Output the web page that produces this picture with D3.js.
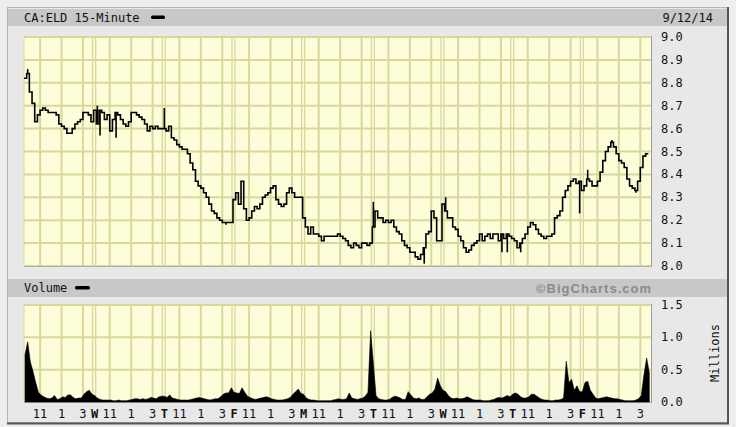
<!DOCTYPE html>
<html>
<head>
<meta charset="utf-8">
<script src="https://cdn.jsdelivr.net/npm/d3@7/dist/d3.min.js"></script>
<style>
  html, body { margin: 0; padding: 0; background: #eeeeee; }
  svg { display: block; }
  text { font-family: "DejaVu Sans Mono", monospace; }
</style>
</head>
<body>
<svg id="chart" width="736" height="427"></svg>
<script>
// ---------- DATA ----------
const title = "CA:ELD 15-Minute";
const dateLabel = "9/12/14";
const dayLetters = ["", "W", "T", "F", "M", "T", "W", "T", "F"];
const hourLabels = ["11", "1", "3"];
const hourBarOffsets = [6, 14, 22];      // 15-min bar offsets of 11:00, 1:00, 3:00 from 9:30
const barsPerDay = 26;
const priceTicks = [8.0, 8.1, 8.2, 8.3, 8.4, 8.5, 8.6, 8.7, 8.8, 8.9, 9.0];
const volumeTicks = [0.0, 0.5, 1.0, 1.5];

// 15-minute closing prices, one array per trading day
const priceTue = [8.82, 8.84, 8.76, 8.71, 8.63, 8.66, 8.68, 8.69, 8.68, 8.67, 8.67, 8.67, 8.66, 8.62, 8.61, 8.60, 8.58, 8.58, 8.60, 8.62, 8.63, 8.64, 8.67, 8.67, 8.66, 8.63];
const priceWed = [8.68, 8.62, 8.68, 8.67, 8.64, 8.66, 8.59, 8.64, 8.67, 8.66, 8.64, 8.62, 8.61, 8.63, 8.67, 8.67, 8.66, 8.65, 8.64, 8.62, 8.59, 8.61, 8.60, 8.61, 8.60, 8.60];
const priceThu = [8.60, 8.59, 8.61, 8.56, 8.55, 8.53, 8.52, 8.51, 8.51, 8.49, 8.45, 8.42, 8.37, 8.35, 8.34, 8.32, 8.30, 8.27, 8.24, 8.23, 8.21, 8.20, 8.19, 8.19, 8.19, 8.19];
const priceFri = [8.29, 8.32, 8.27, 8.37, 8.25, 8.20, 8.21, 8.24, 8.26, 8.25, 8.27, 8.30, 8.31, 8.32, 8.34, 8.35, 8.29, 8.27, 8.26, 8.27, 8.32, 8.34, 8.32, 8.30, 8.30, 8.30];
const priceMon = [8.21, 8.17, 8.14, 8.17, 8.14, 8.14, 8.13, 8.11, 8.13, 8.13, 8.13, 8.13, 8.13, 8.14, 8.13, 8.12, 8.11, 8.09, 8.08, 8.10, 8.09, 8.08, 8.10, 8.10, 8.09, 8.10];
const priceTue2 = [8.17, 8.24, 8.21, 8.21, 8.19, 8.20, 8.19, 8.20, 8.17, 8.15, 8.14, 8.11, 8.09, 8.08, 8.06, 8.06, 8.04, 8.03, 8.05, 8.08, 8.14, 8.15, 8.24, 8.21, 8.11, 8.11];
const priceWed2 = [8.27, 8.24, 8.21, 8.21, 8.17, 8.16, 8.13, 8.11, 8.08, 8.06, 8.07, 8.09, 8.10, 8.11, 8.14, 8.11, 8.13, 8.14, 8.12, 8.14, 8.14, 8.11, 8.14, 8.12, 8.14, 8.13];
const priceThu2 = [8.12, 8.11, 8.08, 8.10, 8.12, 8.14, 8.17, 8.19, 8.18, 8.16, 8.14, 8.13, 8.12, 8.13, 8.13, 8.14, 8.21, 8.22, 8.24, 8.30, 8.33, 8.35, 8.37, 8.38, 8.36, 8.37];
const priceFri2 = [8.33, 8.35, 8.38, 8.37, 8.35, 8.35, 8.37, 8.41, 8.46, 8.50, 8.52, 8.54, 8.52, 8.49, 8.46, 8.45, 8.43, 8.38, 8.35, 8.34, 8.33, 8.37, 8.43, 8.48, 8.49, 8.49];

// intrabar extremes that stick out of the closing line: [bar index, price]
const priceSpikes = [[1, 8.86], [27, 8.70], [28, 8.57], [34, 8.56], [52, 8.69], [75, 8.18], [130, 8.28], [149, 8.01], [157, 8.30], [178, 8.06], [180, 8.06], [185, 8.06], [207, 8.23], [210, 8.42], [219, 8.55], [228, 8.32]];

// 15-minute volume, millions of shares
const volTue = [0.73, 0.93, 0.62, 0.47, 0.30, 0.15, 0.11, 0.08, 0.06, 0.05, 0.06, 0.10, 0.04, 0.05, 0.08, 0.07, 0.11, 0.11, 0.07, 0.05, 0.06, 0.06, 0.12, 0.16, 0.18, 0.12];
const volWed = [0.10, 0.06, 0.04, 0.03, 0.03, 0.03, 0.03, 0.02, 0.02, 0.03, 0.02, 0.02, 0.02, 0.03, 0.04, 0.05, 0.05, 0.04, 0.05, 0.04, 0.05, 0.07, 0.06, 0.05, 0.08, 0.09];
const volThu = [0.09, 0.07, 0.11, 0.06, 0.05, 0.04, 0.03, 0.03, 0.03, 0.03, 0.04, 0.05, 0.06, 0.07, 0.06, 0.05, 0.04, 0.03, 0.04, 0.05, 0.05, 0.08, 0.12, 0.14, 0.14, 0.22];
const volFri = [0.15, 0.14, 0.13, 0.22, 0.15, 0.09, 0.07, 0.05, 0.04, 0.05, 0.06, 0.07, 0.08, 0.07, 0.05, 0.04, 0.03, 0.03, 0.03, 0.04, 0.05, 0.07, 0.12, 0.16, 0.20, 0.13];
const volMon = [0.12, 0.06, 0.04, 0.03, 0.03, 0.02, 0.02, 0.02, 0.02, 0.02, 0.02, 0.03, 0.04, 0.05, 0.04, 0.04, 0.05, 0.14, 0.06, 0.05, 0.04, 0.05, 0.06, 0.09, 0.15, 1.10];
const volTue2 = [0.60, 0.10, 0.05, 0.04, 0.03, 0.03, 0.04, 0.07, 0.09, 0.08, 0.06, 0.04, 0.04, 0.16, 0.11, 0.06, 0.05, 0.06, 0.04, 0.04, 0.08, 0.12, 0.14, 0.20, 0.37, 0.25];
const volWed2 = [0.18, 0.16, 0.10, 0.06, 0.05, 0.06, 0.05, 0.05, 0.06, 0.08, 0.06, 0.04, 0.03, 0.03, 0.03, 0.02, 0.02, 0.02, 0.03, 0.04, 0.06, 0.07, 0.06, 0.08, 0.10, 0.08];
const volThu2 = [0.12, 0.14, 0.12, 0.08, 0.06, 0.06, 0.08, 0.12, 0.12, 0.09, 0.06, 0.04, 0.03, 0.03, 0.02, 0.02, 0.03, 0.03, 0.04, 0.06, 0.63, 0.30, 0.35, 0.18, 0.25, 0.16];
const volFri2 = [0.16, 0.30, 0.32, 0.18, 0.12, 0.06, 0.05, 0.06, 0.07, 0.08, 0.07, 0.06, 0.05, 0.05, 0.04, 0.03, 0.02, 0.02, 0.02, 0.02, 0.03, 0.05, 0.10, 0.42, 0.68, 0.45];

// ---------- BUILD ----------
const prices = [].concat(priceTue, priceWed, priceThu, priceFri, priceMon, priceTue2, priceWed2, priceThu2, priceFri2);
const volumes = [].concat(volTue, volWed, volThu, volFri, volMon, volTue2, volWed2, volThu2, volFri2);
const nDays = dayLetters.length;
const nBars = nDays * barsPerDay;

const svg = d3.select("#chart");
const L = 24, R = 651;
const pTop = 37, pBot = 266;
const vTop = 305, vBot = 402;

const x = d3.scaleLinear().domain([0, nBars]).range([L, R]);
const y = d3.scaleLinear().domain([8.0, 9.0]).range([pBot, pTop]);
const yv = d3.scaleLinear().domain([0, 1.5]).range([vBot, vTop]);

const gridColor = "#d8d89c";
const plotFill = "#fdfdd9";

// frame
svg.append("rect").attr("x", 7.5).attr("y", 7.5).attr("width", 720).attr("height", 415)
  .attr("fill", "#e8e8e8").attr("stroke", "#b4b4b4");
svg.append("line").attr("x1", 728).attr("x2", 728).attr("y1", 7).attr("y2", 424).attr("stroke", "#555").attr("stroke-width", 2);
svg.append("line").attr("x1", 7).attr("x2", 729).attr("y1", 423.5).attr("y2", 423.5).attr("stroke", "#555").attr("stroke-width", 2);

// title bars
svg.append("rect").attr("x", 8).attr("y", 9).attr("width", 719).attr("height", 17).attr("fill", "#c8c8c8");
svg.append("rect").attr("x", 8).attr("y", 279).attr("width", 719).attr("height", 18).attr("fill", "#c8c8c8");

svg.append("text").attr("x", 24).attr("y", 22).attr("font-size", 12).attr("fill", "#111").text(title);
svg.append("rect").attr("x", 151).attr("y", 15.5).attr("width", 14).attr("height", 3.5).attr("rx", 1.5).attr("fill", "#000");
svg.append("text").attr("x", 713).attr("y", 22).attr("text-anchor", "end").attr("font-size", 12).attr("fill", "#111").text(dateLabel);

svg.append("text").attr("x", 24).attr("y", 292).attr("font-size", 12).attr("fill", "#111").text("Volume");
svg.append("rect").attr("x", 75).attr("y", 286).attr("width", 15).attr("height", 3.5).attr("rx", 1.5).attr("fill", "#000");
svg.append("text").attr("x", 651).attr("y", 292.5).attr("text-anchor", "end")
  .attr("font-weight", "bold")
  .attr("font-size", 13).attr("fill", "#8a8a8a").attr("textLength", 115).attr("lengthAdjust", "spacing")
  .style("font-family", "'Liberation Sans', Arial, sans-serif")
  .text("©BigCharts.com");

// plot panels
function panel(top, bot, ticks, yScale) {
  const g = svg.append("g");
  g.append("rect").attr("x", L).attr("y", top).attr("width", R - L).attr("height", bot - top).attr("fill", plotFill);
  // horizontal grid
  g.selectAll("line.h").data(ticks).enter().append("line")
    .attr("x1", L).attr("x2", R).attr("y1", d => yScale(d)).attr("y2", d => yScale(d))
    .attr("stroke", gridColor).attr("stroke-width", 2);
  // vertical grid
  const vx = [];
  for (let d = 0; d < nDays; d++) {
    if (d > 0) { vx.push({ p: x(d * barsPerDay) - 1, w: 1.3 }); vx.push({ p: x(d * barsPerDay) + 2, w: 1.3 }); }
    hourBarOffsets.forEach(o => vx.push({ p: x(d * barsPerDay + o), w: 2 }));
  }
  g.selectAll("line.v").data(vx).enter().append("line")
    .attr("x1", d => d.p).attr("x2", d => d.p).attr("y1", top).attr("y2", bot)
    .attr("stroke", gridColor).attr("stroke-width", d => d.w);
  g.append("line").attr("x1", L).attr("x2", L).attr("y1", top).attr("y2", bot).attr("stroke", gridColor).attr("stroke-width", 1);
  g.append("line").attr("x1", R + 0.5).attr("x2", R + 0.5).attr("y1", top - 1).attr("y2", bot + 1).attr("stroke", "#9a9a9a").attr("stroke-width", 1);
  g.append("line").attr("x1", L).attr("x2", R + 1).attr("y1", bot + 0.5).attr("y2", bot + 0.5).attr("stroke", "#b0b0b0").attr("stroke-width", 1);
  return g;
}
panel(pTop, pBot, priceTicks, y);
panel(vTop, vBot, volumeTicks, yv);

// price line (stepped)
const line = d3.line().x((d, i) => x(i)).y(d => y(d)).curve(d3.curveStepAfter);
svg.append("path").datum(prices).attr("d", line).attr("fill", "none")
  .attr("stroke", "#000").attr("stroke-width", 1.6);
svg.selectAll("line.spike").data(priceSpikes).enter().append("line")
  .attr("x1", d => x(d[0]) + 1).attr("x2", d => x(d[0]) + 1)
  .attr("y1", d => y(prices[d[0]])).attr("y2", d => y(d[1]))
  .attr("stroke", "#000").attr("stroke-width", 1.6);

// volume area
const area = d3.area().x((d, i) => x(i) + 1).y0(yv(0)).y1(d => yv(d)).curve(d3.curveLinear);
svg.append("path").datum(volumes).attr("d", area).attr("fill", "#000").attr("stroke", "#000").attr("stroke-width", 0.6);

// right axes labels
svg.selectAll("text.pt").data(priceTicks).enter().append("text")
  .attr("x", 661).attr("y", d => y(d) + 4).attr("font-size", 12).attr("fill", "#111")
  .text(d => d.toFixed(1));
svg.selectAll("text.vt").data(volumeTicks).enter().append("text")
  .attr("x", 661).attr("y", d => yv(d) + 4).attr("font-size", 12).attr("fill", "#111")
  .text(d => d.toFixed(1));
svg.append("text").attr("transform", "translate(719,353) rotate(-90)").attr("text-anchor", "middle")
  .attr("font-size", 12).attr("fill", "#111").text("Millions");

// x-axis labels
const xl = [];
for (let d = 0; d < nDays; d++) {
  if (dayLetters[d]) xl.push({ x: x(d * barsPerDay) + 1, t: dayLetters[d], b: true });
  hourLabels.forEach((h, k) => xl.push({ x: x(d * barsPerDay + hourBarOffsets[k]), t: h, b: false }));
}
svg.selectAll("text.xl").data(xl).enter().append("text")
  .attr("x", d => d.x).attr("y", 418).attr("text-anchor", "middle").attr("font-size", 12)
  .attr("font-weight", d => d.b ? "bold" : "normal").attr("fill", "#111")
  .text(d => d.t);
</script>
</body>
</html>
